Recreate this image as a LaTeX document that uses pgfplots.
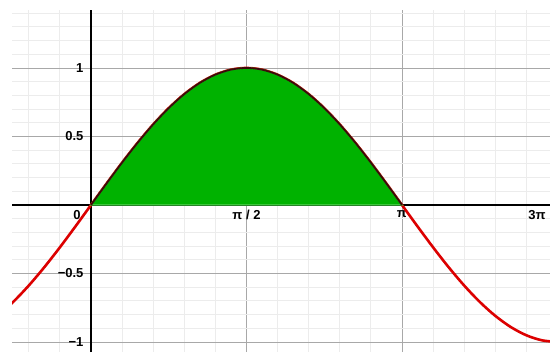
\documentclass[border=0pt]{standalone}
\usepackage{fontspec}
\setmainfont{Liberation Sans}
\usepackage{pgfplots}
\pgfplotsset{compat=1.18}
\usepackage{pgfplotstable}
\definecolor{curvered}{RGB}{220,0,0}
\definecolor{areagreen}{RGB}{0,178,0}
\definecolor{edgegreen}{RGB}{60,200,60}
\definecolor{darkline}{RGB}{60,10,10}
\definecolor{majgrid}{RGB}{168,168,168}
\definecolor{mingrid}{RGB}{236,236,236}
\pgfplotstableread{
x y
-0.94248 -0.80902
-0.78540 -0.70711
-0.62832 -0.58779
-0.47124 -0.45399
-0.31416 -0.30902
-0.15708 -0.15643
0.00000 0.00000
0.15708 0.15643
0.31416 0.30902
0.47124 0.45399
0.62832 0.58779
0.78540 0.70711
0.94248 0.80902
1.09956 0.89101
1.25664 0.95106
1.41372 0.98769
1.57080 1.00000
1.72788 0.98769
1.88496 0.95106
2.04204 0.89101
2.19911 0.80902
2.35619 0.70711
2.51327 0.58779
2.67035 0.45399
2.82743 0.30902
2.98451 0.15643
3.14159 0.00000
3.29867 -0.15643
3.45575 -0.30902
3.61283 -0.45399
3.76991 -0.58779
3.92699 -0.70711
4.08407 -0.80902
4.24115 -0.89101
4.39823 -0.95106
4.55531 -0.98769
4.71239 -1.00000
}\sine
\pgfplotstableread{
x y
0.00000 0.00000
0.15708 0.15643
0.31416 0.30902
0.47124 0.45399
0.62832 0.58779
0.78540 0.70711
0.94248 0.80902
1.09956 0.89101
1.25664 0.95106
1.41372 0.98769
1.57080 1.00000
1.72788 0.98769
1.88496 0.95106
2.04204 0.89101
2.19911 0.80902
2.35619 0.70711
2.51327 0.58779
2.67035 0.45399
2.82743 0.30902
2.98451 0.15643
3.14159 0.00000
}\area
\begin{document}
\begin{tikzpicture}
\begin{axis}[
  width=538pt, height=342pt, scale only axis,
  xmin=-0.798, xmax=4.637, ymin=-1.073, ymax=1.423,
  axis lines=middle,
  axis line style={-, black, line width=1.6pt},
  xtick={1.5708,3.14159},
  xticklabels={π / 2,π},
  extra x ticks={0,4.505},
  extra x tick labels={0\hspace*{28pt},3π},
  extra x tick style={grid=none},
  ytick={-1,-0.5,0.5,1},
  yticklabels={−1,−0.5,0.5,1},
  minor xtick={-0.62832,-0.31416,0.31416,0.62832,0.94248,1.25664,1.88496,2.19911,2.51327,2.82743,3.45575,3.76991,4.08407,4.39823},
  minor ytick={-0.9,-0.8,-0.7,-0.6,-0.4,-0.3,-0.2,-0.1,0.1,0.2,0.3,0.4,0.6,0.7,0.8,0.9,1.1,1.2,1.3,1.4},
  grid=both,
  major grid style={majgrid, line width=0.9pt},
  minor grid style={mingrid, line width=0.8pt},
  major tick length=0pt, minor tick length=0pt,
  tick label style={font=\bfseries\fontsize{13}{14}\selectfont},
  /pgf/number format/assume math mode=true,
  xticklabel style={anchor=north, yshift=-2pt},
  yticklabel style={anchor=east, xshift=-4pt},
  clip=true,
]
\addplot[curvered, line width=2.6pt, smooth] table[x=x,y=y] {\sine};
\addplot[draw=edgegreen, fill=areagreen, line width=1.5pt, smooth] table[x=x,y=y] {\area} \closedcycle;
\addplot[darkline, line width=1.8pt, smooth] table[x=x,y=y] {\area};
\end{axis}
\pgfresetboundingbox
\useasboundingbox ([xshift=-12pt]current axis.south west) rectangle ([yshift=10pt]current axis.north east);
\end{tikzpicture}
\end{document}
